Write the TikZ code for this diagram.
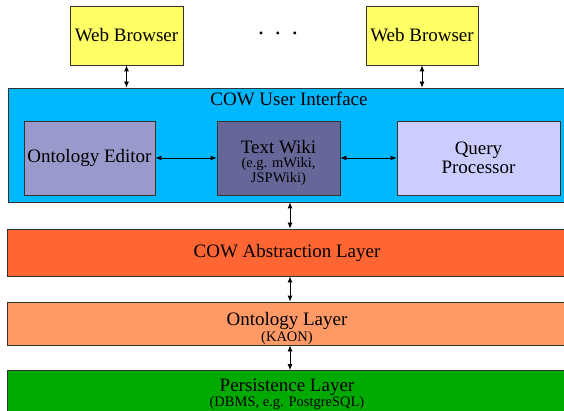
\documentclass[tikz,border=0pt]{standalone}
\usepackage{fontspec}
\setmainfont{Liberation Serif}
\usetikzlibrary{arrows.meta}
\definecolor{wbyellow}{HTML}{FFFF66}
\definecolor{uiblue}{HTML}{00B8FF}
\definecolor{oedit}{HTML}{9999CC}
\definecolor{twiki}{HTML}{666699}
\definecolor{qproc}{HTML}{CCCCFF}
\definecolor{abstr}{HTML}{FF6633}
\definecolor{ontl}{HTML}{FF9966}
\definecolor{pers}{HTML}{00AA00}
\newcommand{\bigtxt}{\fontsize{19}{20}\selectfont}
\newcommand{\smalltxt}{\fontsize{14.5}{13}\selectfont}
\newcommand{\topline}[2][23pt]{{\bigtxt\rule{0pt}{#1}#2}}
\tikzset{
  box/.style={draw=black!80, line width=0.8pt, inner sep=0pt, align=center},
  big/.style={font=\bigtxt},
  twoline/.style={font=\smalltxt},
  link/.style={{Latex[length=6pt,width=5pt]}-{Latex[length=6pt,width=5pt]}, line width=0.8pt},
}
\begin{document}
\begin{tikzpicture}[x=1pt,y=-1pt]
\useasboundingbox (0,0) rectangle (564,411);
% web browsers
\node[box, fill=wbyellow, big, minimum width=113pt, minimum height=59pt] (wb1) at (126.5,35.5) {Web Browser};
\node[box, fill=wbyellow, big, minimum width=112pt, minimum height=59pt] (wb2) at (422,35.5) {Web Browser};
\node[font=\fontsize{24}{24}\selectfont] (dots) at (278,33) {.\hspace{11pt}.\hspace{11pt}.};
% UI
\node[box, fill=uiblue, minimum width=560pt, minimum height=114pt] (ui) at (288,145) {};
\node[big, anchor=center] (uit) at (289,99) {COW User Interface};
\node[box, fill=oedit, big, minimum width=131pt, minimum height=74pt] (oe) at (89.5,158) {Ontology Editor};
\node[box, fill=twiki, twoline, minimum width=123pt, minimum height=74pt] (tw) at (278.5,158) {\topline{Text Wiki}\\[1pt](e.g. mWiki,\\JSPWiki)};
\node[box, fill=qproc, font=\fontsize{19}{19}\selectfont, minimum width=163pt, minimum height=74pt] (qp) at (478.5,158) {Query\\Processor};
% layers
\node[box, fill=abstr, big, minimum width=560pt, minimum height=47pt] (al) at (287,252.5) {COW Abstraction Layer};
\node[box, fill=ontl, twoline, minimum width=560pt, minimum height=43pt] (ol) at (287,323.5) {\topline{Ontology Layer}\\[1pt](KAON)};
\node[box, fill=pers, twoline, minimum width=560pt, minimum height=41pt] (pl) at (287,391) {\topline[19pt]{Persistence Layer}\\[0pt](DBMS, e.g. PostgreSQL)};
% connectors
\draw[link] (wb1.south) -- (wb1.south |- ui.north);
\draw[link] (wb2.south) -- (wb2.south |- ui.north);
\draw[link] (oe.east) -- (tw.west);
\draw[link] (tw.east) -- (qp.west);
\coordinate (c1) at (290,0);
\draw[link] (c1 |- ui.south) -- (c1 |- al.north);
\draw[link] (c1 |- al.south) -- (c1 |- ol.north);
\draw[link] (c1 |- ol.south) -- (c1 |- pl.north);
\end{tikzpicture}
\end{document}
